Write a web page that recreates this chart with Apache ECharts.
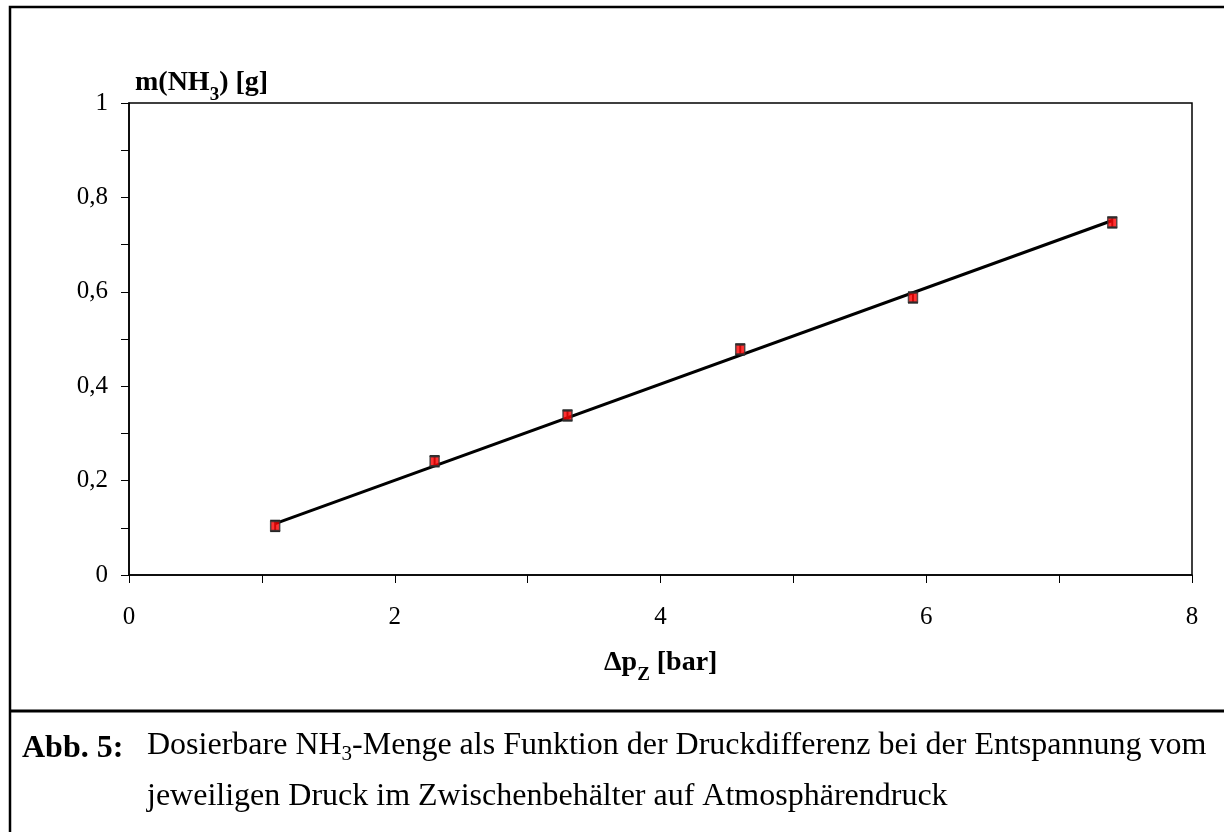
<!DOCTYPE html>
<html>
<head>
<meta charset="utf-8">
<script src="https://cdn.jsdelivr.net/npm/echarts@6/dist/echarts.min.js"></script>
<style>
html,body{margin:0;padding:0;background:#fff;}
#chart{width:1224px;height:832px;}
</style>
</head>
<body>
<div id="chart"></div>
<script>
// Data
const xVals = [1.1, 2.3, 3.3, 4.6, 5.9, 7.4];
const yVals = [0.104, 0.241, 0.338, 0.478, 0.588, 0.747];
const yErr = [0.011, 0.011, 0.011, 0.011, 0.011, 0.011];
const trendX = [1.1, 7.4];
const trendY = [0.109, 0.751];
const xTickLabels = ['0', '2', '4', '6', '8'];
const yTickLabels = ['0', '0,2', '0,4', '0,6', '0,8', '1'];

const FONT = '"Liberation Serif", "Times New Roman", serif';

const pts = xVals.map((x, i) => [x, yVals[i]]);
const errData = xVals.map((x, i) => [x, yVals[i] - yErr[i], yVals[i] + yErr[i]]);
const trend = trendX.map((x, i) => [x, trendY[i]]);

const chart = echarts.init(document.getElementById('chart'), null, {renderer: 'canvas'});

const option = {
  backgroundColor: '#fff',
  animation: false,
  grid: {left: 129, top: 103, right: 32, bottom: 257, show: true, borderColor: '#000', borderWidth: 1.5, backgroundColor: 'transparent'},
  xAxis: {
    type: 'value', min: 0, max: 8, interval: 1,
    axisLine: {show: true, onZero: false, lineStyle: {color: '#000', width: 1.5}},
    axisTick: {show: true, inside: false, length: 8, lineStyle: {color: '#000', width: 1}},
    splitLine: {show: false},
    axisLabel: {
      margin: 30, color: '#000', fontFamily: FONT, fontSize: 25,
      formatter: function (v) { const k = Math.round(v); return (k % 2 === 0) ? xTickLabels[k / 2] : ''; }
    }
  },
  yAxis: {
    type: 'value', min: 0, max: 1, interval: 0.1,
    axisLine: {show: true, onZero: false, lineStyle: {color: '#000', width: 1.5}},
    axisTick: {show: true, inside: false, length: 8, lineStyle: {color: '#000', width: 1}},
    splitLine: {show: false},
    axisLabel: {
      margin: 21, color: '#000', fontFamily: FONT, fontSize: 25,
      formatter: function (v) { const k = Math.round(v * 10); return (k % 2 === 0) ? yTickLabels[k / 2] : ''; }
    }
  },
  series: [
    {
      type: 'line', data: trend, symbol: 'none', z: 2,
      lineStyle: {color: '#000', width: 3}
    },
    {
      type: 'custom', z: 3,
      data: errData,
      renderItem: function (params, api) {
        const x = api.value(0);
        const lo = api.coord([x, api.value(1)]);
        const hi = api.coord([x, api.value(2)]);
        const w = 5;
        const st = {stroke: '#222', lineWidth: 2};
        return {type: 'group', children: [
          {type: 'line', shape: {x1: lo[0], y1: lo[1], x2: hi[0], y2: hi[1]}, style: st},
          {type: 'line', shape: {x1: lo[0] - w, y1: lo[1], x2: lo[0] + w, y2: lo[1]}, style: st},
          {type: 'line', shape: {x1: hi[0] - w, y1: hi[1], x2: hi[0] + w, y2: hi[1]}, style: st}
        ]};
      }
    },
    {
      type: 'scatter', data: pts, symbol: 'rect', symbolSize: 9, z: 4,
      itemStyle: {color: '#ff0000', borderColor: '#333', borderWidth: 1.5}
    }
  ],
  graphic: [
    {type: 'rect', shape: {x: 10, y: 7, width: 1300, height: 900}, style: {fill: 'none', stroke: '#000', lineWidth: 2.5}, silent: true},
    {type: 'line', shape: {x1: 10, y1: 711, x2: 1224, y2: 711}, style: {stroke: '#000', lineWidth: 3}, silent: true},
    {
      type: 'text', left: 135, top: 69,
      style: {
        text: '{b|m(NH}{s|3}{b|) [g]}',
        rich: {
          b: {fontFamily: FONT, fontSize: 28, fontWeight: 'bold', fill: '#000', lineHeight: 36, verticalAlign: 'top'},
          s: {fontFamily: FONT, fontSize: 19, fontWeight: 'bold', fill: '#000', lineHeight: 22, verticalAlign: 'bottom'}
        }
      }
    },
    {
      type: 'text', left: 604, top: 649,
      style: {
        text: '{b|\u0394p}{s|Z}{b| [bar]}',
        rich: {
          b: {fontFamily: FONT, fontSize: 28, fontWeight: 'bold', fill: '#000', lineHeight: 36, verticalAlign: 'top'},
          s: {fontFamily: FONT, fontSize: 19, fontWeight: 'bold', fill: '#000', lineHeight: 22, verticalAlign: 'bottom'}
        }
      }
    },
    {
      type: 'text', left: 22, top: 733,
      style: {text: 'Abb. 5:', fontFamily: FONT, fontSize: 32, fontWeight: 'bold', fill: '#000'}
    },
    {
      type: 'text', left: 147, top: 730,
      style: {
        text: '{n|Dosierbare NH}{s|3}{n|-Menge als Funktion der Druckdifferenz bei der Entspannung vom}',
        rich: {
          n: {fontFamily: FONT, fontSize: 32, fill: '#000', lineHeight: 40, verticalAlign: 'top'},
          s: {fontFamily: FONT, fontSize: 21, fill: '#000', lineHeight: 22, verticalAlign: 'bottom', padding: [0, 0, 5, 0]}
        }
      }
    },
    {
      type: 'text', left: 147, top: 781,
      style: {text: 'jeweiligen Druck im Zwischenbehälter auf Atmosphärendruck', fontFamily: FONT, fontSize: 32, fill: '#000'}
    }
  ]
};
chart.setOption(option);
</script>
</body>
</html>
